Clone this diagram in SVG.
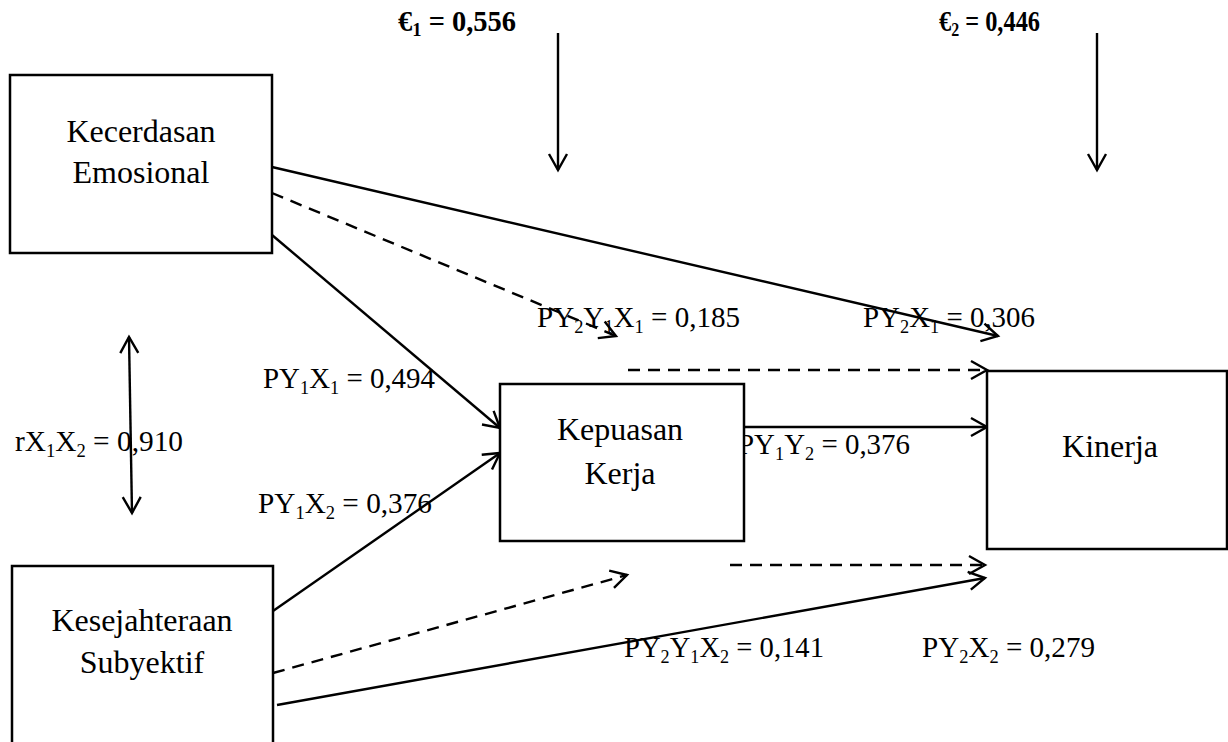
<svg xmlns="http://www.w3.org/2000/svg" width="1228" height="742" viewBox="0 0 1228 742">
<style>
.box{fill:#fff;stroke:#000;stroke-width:2.5}
.nt{font-family:"Liberation Serif","Times New Roman",serif;font-size:32px;fill:#000;text-anchor:middle}
.lb{font-family:"Liberation Serif","Times New Roman",serif;font-size:30px;fill:#000}
.eb{font-family:"Liberation Serif","Times New Roman",serif;font-size:29px;font-weight:bold;fill:#000}
.sb{font-size:19px}
.ln{stroke:#000;stroke-width:2.4;fill:none;marker-end:url(#ah)}
.ds{stroke-dasharray:12 8}
</style>
<defs>
<marker id="ah" markerUnits="userSpaceOnUse" viewBox="-20 -12 24 24" refX="0" refY="0" markerWidth="24" markerHeight="24" orient="auto-start-reverse">
<path d="M-16,-9 L0,0 L-16,9" fill="none" stroke="#000" stroke-width="2.4"/>
</marker>
</defs>
<g id="labels">
<text class="eb" x="398" y="31" textLength="118" lengthAdjust="spacingAndGlyphs">€<tspan class="sb" dy="5">1</tspan><tspan dy="-5"> = 0,556</tspan></text>
<text class="eb" x="939" y="31" textLength="101" lengthAdjust="spacingAndGlyphs">€<tspan class="sb" dy="5">2</tspan><tspan dy="-5"> = 0,446</tspan></text>
<text class="lb" x="15" y="451" textLength="168" lengthAdjust="spacingAndGlyphs">rX<tspan class="sb" dy="6">1</tspan><tspan dy="-6">X</tspan><tspan class="sb" dy="6">2</tspan><tspan dy="-6"> = 0,910</tspan></text>
<text class="lb" x="263" y="388" textLength="172" lengthAdjust="spacingAndGlyphs">PY<tspan class="sb" dy="6">1</tspan><tspan dy="-6">X</tspan><tspan class="sb" dy="6">1</tspan><tspan dy="-6"> = 0,494</tspan></text>
<text class="lb" x="258" y="513" textLength="174" lengthAdjust="spacingAndGlyphs">PY<tspan class="sb" dy="6">1</tspan><tspan dy="-6">X</tspan><tspan class="sb" dy="6">2</tspan><tspan dy="-6"> = 0,376</tspan></text>
<text class="lb" x="537" y="327" textLength="203" lengthAdjust="spacingAndGlyphs">PY<tspan class="sb" dy="6">2</tspan><tspan dy="-6">Y</tspan><tspan class="sb" dy="6">1</tspan><tspan dy="-6">X</tspan><tspan class="sb" dy="6">1</tspan><tspan dy="-6"> = 0,185</tspan></text>
<text class="lb" x="863" y="327" textLength="172" lengthAdjust="spacingAndGlyphs">PY<tspan class="sb" dy="6">2</tspan><tspan dy="-6">X</tspan><tspan class="sb" dy="6">1</tspan><tspan dy="-6"> = 0,306</tspan></text>
<text class="lb" x="738" y="454" textLength="172" lengthAdjust="spacingAndGlyphs">PY<tspan class="sb" dy="6">1</tspan><tspan dy="-6">Y</tspan><tspan class="sb" dy="6">2</tspan><tspan dy="-6"> = 0,376</tspan></text>
<text class="lb" x="624" y="657" textLength="200" lengthAdjust="spacingAndGlyphs">PY<tspan class="sb" dy="6">2</tspan><tspan dy="-6">Y</tspan><tspan class="sb" dy="6">1</tspan><tspan dy="-6">X</tspan><tspan class="sb" dy="6">2</tspan><tspan dy="-6"> = 0,141</tspan></text>
<text class="lb" x="922" y="657" textLength="173" lengthAdjust="spacingAndGlyphs">PY<tspan class="sb" dy="6">2</tspan><tspan dy="-6">X</tspan><tspan class="sb" dy="6">2</tspan><tspan dy="-6"> = 0,279</tspan></text>
</g>
<g id="connectors">
<line class="ln" x1="558" y1="33" x2="558" y2="170"/>
<line class="ln" x1="1097" y1="33" x2="1097" y2="170"/>
<line class="ln" x1="129" y1="337" x2="132" y2="513" style="marker-start:url(#ah)"/>
<line class="ln" x1="272" y1="167" x2="998" y2="336"/>
<line class="ln ds" x1="272" y1="193" x2="616" y2="336"/>
<line class="ln" x1="272" y1="235" x2="500" y2="428"/>
<line class="ln" x1="273" y1="611" x2="500" y2="453"/>
<line class="ln ds" x1="273" y1="673" x2="627" y2="575"/>
<line class="ln" x1="277" y1="705" x2="985" y2="578"/>
<line class="ln ds" x1="628" y1="370" x2="987" y2="370"/>
<line class="ln" x1="744" y1="427" x2="987" y2="427"/>
<line class="ln ds" x1="730" y1="565" x2="985" y2="565"/>
</g>
<g id="node-kecerdasan">
<rect class="box" x="10" y="75" width="262" height="178"/>
<text class="nt" x="141" y="142">Kecerdasan</text>
<text class="nt" x="141" y="183">Emosional</text>
</g>
<g id="node-kesejahteraan">
<rect class="box" x="12" y="566" width="261" height="200"/>
<text class="nt" x="142" y="631">Kesejahteraan</text>
<text class="nt" x="142" y="673">Subyektif</text>
</g>
<g id="node-kepuasan">
<rect class="box" x="500" y="384" width="244" height="157"/>
<text class="nt" x="620" y="440">Kepuasan</text>
<text class="nt" x="620" y="484">Kerja</text>
</g>
<g id="node-kinerja">
<rect class="box" x="987" y="371" width="240" height="178"/>
<text class="nt" x="1110" y="457">Kinerja</text>
</g>
</svg>
